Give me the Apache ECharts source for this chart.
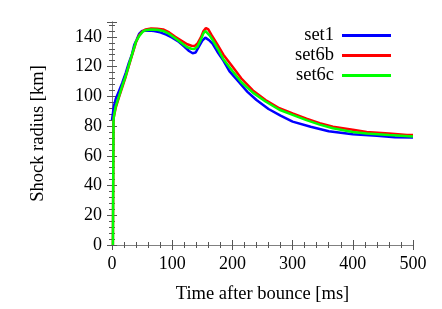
<!DOCTYPE html>
<html><head><meta charset="utf-8">
<script src="https://cdn.jsdelivr.net/npm/echarts@6/dist/echarts.min.js"></script>
<style>html,body{margin:0;padding:0;background:#fff}#c{width:442px;height:309px}</style>
</head><body><div id="c"></div>
<script>
var seriesNames = ['set1', 'set6b', 'set6c'];
var xTicks = [0, 100, 200, 300, 400, 500];
var yTicks = [0, 20, 40, 60, 80, 100, 120, 140];

var tSet1 = [0,3,6,12,17,23,28,33,37,41,45,50,60,70,80,90,100,110,120,128,134,139,145,150,155,158,162,167,175,185,195,210,225,240,260,280,300,330,360,400,440,470,500];
var rSet1 = [84,93,98,104,109,116,122.5,128,134.6,138,142,144,144.3,144,143,141.5,139.5,137,133.5,130.5,129,129.5,134,137.5,139.5,139,137.5,135.5,130,124,117,110,103,97.5,91.5,87,83,79.5,76.5,74.5,73.5,72.5,72.3];

var tSet6b = [1.5,2.5,3,6,12,17,23,28,34,40,45,50,56,65,75,85,95,105,115,125,132,137,142,148,152,156,160,165,175,185,200,215,234,255,278,300,323,345,367,400,423,460,490,500];
var rSet6b = [0,83,86,92,100,106,113.5,120.5,128.5,136.5,141,143.5,145,145.7,145.5,145,143,140,137.5,135,134,133.8,135.5,140,144,146,145,141.5,135,128,120,112,104,97.5,92,88.5,85,82,79.5,77.5,76,75,74,74];

var tSet6c = [1.5,2.5,3,6,12,17,23,28,34,40,45,51,56,65,75,85,95,105,115,125,132,137,142,148,152,155,158,162,167,175,185,200,215,234,255,278,300,323,345,367,400,423,460,500];
var rSet6c = [0,83,86,93,100.5,107,114,121,129,137,140.5,143.5,144.5,145,144.8,144,142,139,136,133,132,131.8,133.5,138.5,142.5,144,143.5,141,138,132.5,125,117,109.5,102.5,96.5,91,87.5,84,81,78.5,76,75,74,73];

function pairs(t, r) { return t.map(function (v, i) { return [v, r[i]]; }); }
var colors = ['#0000ff', '#ff0000', '#00ff00'];
var dataSets = [pairs(tSet1, rSet1), pairs(tSet6b, rSet6b), pairs(tSet6c, rSet6c)];

var font = 'Liberation Serif';
var axisLineStyle = { color: '#808080', width: 1 };
var tickStyle = { color: '#555', width: 1 };

var chart = echarts.init(document.getElementById('c'), null, { renderer: 'canvas' });
chart.setOption({
  animation: false,
  backgroundColor: '#fff',
  grid: { left: 112, right: 29, top: 22, bottom: 59, containLabel: false },
  legend: {
    data: seriesNames,
    orient: 'vertical',
    align: 'right',
    right: 46,
    top: 21,
    itemWidth: 49,
    itemHeight: 3,
    itemGap: 1,
    icon: 'rect',
    textStyle: { fontFamily: font, fontSize: 18.5, color: '#000', width: 52, align: 'right', lineHeight: 16, padding: [0, 3, 0, 0] }
  },
  xAxis: [{
    type: 'value', min: 0, max: 500, interval: 100,
    name: 'Time after bounce [ms]', nameLocation: 'middle', nameGap: 40,
    nameTextStyle: { fontFamily: font, fontSize: 18.5, color: '#000' },
    axisLine: { show: true, lineStyle: axisLineStyle },
    axisTick: { show: true, inside: true, length: 5, lineStyle: tickStyle },
    minorTick: { show: true, splitNumber: 5, length: 3, lineStyle: tickStyle },
    axisLabel: { fontFamily: font, fontSize: 18, color: '#000', margin: 10,
      formatter: function (v) { return xTicks.indexOf(v) >= 0 ? String(v) : ''; } },
    splitLine: { show: false }
  }, {
    type: 'value', min: 0, max: 500, interval: 100, position: 'top',
    axisLine: { show: true, lineStyle: axisLineStyle },
    axisTick: { show: true, inside: true, length: 5, lineStyle: tickStyle },
    minorTick: { show: true, splitNumber: 5, length: 3, lineStyle: tickStyle },
    axisLabel: { show: false }, splitLine: { show: false }
  }],
  yAxis: [{
    type: 'value', min: 0, max: 150, interval: 20,
    name: 'Shock radius [km]', nameLocation: 'middle', nameGap: 64,
    nameTextStyle: { fontFamily: font, fontSize: 18.5, color: '#000' },
    axisLine: { show: true, lineStyle: axisLineStyle },
    axisTick: { show: true, inside: true, length: 5, lineStyle: tickStyle },
    minorTick: { show: true, splitNumber: 5, length: 3, lineStyle: tickStyle },
    axisLabel: { fontFamily: font, fontSize: 18, color: '#000', margin: 10, showMaxLabel: false, padding: [4, 0, 0, 0],
      formatter: function (v) { return yTicks.indexOf(v) >= 0 ? String(v) : ''; } },
    splitLine: { show: false }
  }, {
    type: 'value', min: 0, max: 150, interval: 20, position: 'right',
    axisLine: { show: true, lineStyle: axisLineStyle },
    axisTick: { show: true, inside: true, length: 5, lineStyle: tickStyle },
    minorTick: { show: true, splitNumber: 5, length: 3, lineStyle: tickStyle },
    axisLabel: { show: false }, splitLine: { show: false }
  }],
  series: seriesNames.map(function (n, i) {
    return {
      name: n, type: 'line', data: dataSets[i], showSymbol: false, symbol: 'none',
      color: colors[i], lineStyle: { color: colors[i], width: 2.5 }, z: 2 + i,
      xAxisIndex: 0, yAxisIndex: 0
    };
  })
});
</script></body></html>
